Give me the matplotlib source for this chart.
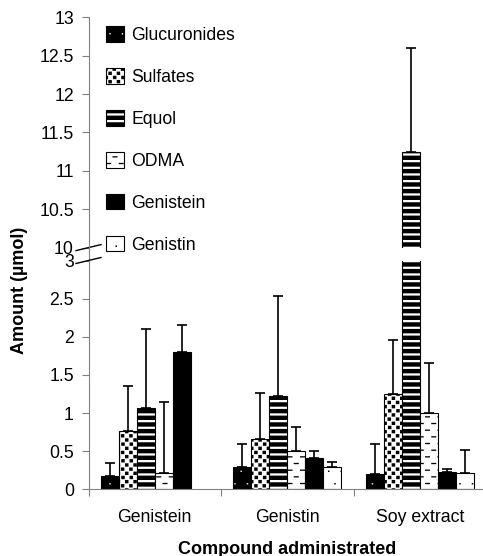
"""Urinary metabolites per compound administrated -- broken-axis bar chart."""
import warnings

import matplotlib

matplotlib.use("Agg")

import matplotlib.pyplot as plt  # noqa: E402
import matplotlib.patches as mpatches  # noqa: E402
import numpy as np  # noqa: E402
from matplotlib import hatch as mhatch  # noqa: E402
from matplotlib import ticker  # noqa: E402
from matplotlib.lines import Line2D  # noqa: E402
from matplotlib.path import Path  # noqa: E402

warnings.filterwarnings("ignore", message=".*hatch must consist.*")

groups = ["Genistein", "Genistin", "Soy extract"]
series = ["Glucuronides", "Sulfates", "Equol", "ODMA", "Genistein", "Genistin"]

glucuronides = [0.18, 0.29, 0.20]
glucuronides_sd = [0.17, 0.31, 0.40]
sulfates = [0.77, 0.66, 1.25]
sulfates_sd = [0.59, 0.60, 0.71]
equol = [1.07, 1.22, 11.25]
equol_sd = [1.03, 1.32, 1.35]
odma = [0.21, 0.50, 1.00]
odma_sd = [0.94, 0.32, 0.65]
genistein = [1.80, 0.41, 0.23]
genistein_sd = [0.36, 0.09, 0.04]
genistin = [np.nan, 0.29, 0.21]  # not measured after genistein dosing
genistin_sd = [np.nan, 0.07, 0.31]

values = [glucuronides, sulfates, equol, odma, genistein, genistin]
errors = [glucuronides_sd, sulfates_sd, equol_sd, odma_sd, genistein_sd, genistin_sd]


# ---- custom fill patterns (tile = 72 pt = 100 px at dpi 100) ----
def _rects(boxes, hole=False):
    verts, codes = [], []
    for x0, y0, w, h in boxes:
        pts = [(x0, y0), (x0 + w, y0), (x0 + w, y0 + h), (x0, y0 + h)]
        if hole:
            pts = pts[::-1]
        verts += pts + [pts[0]]
        codes += [Path.MOVETO, Path.LINETO, Path.LINETO, Path.LINETO, Path.CLOSEPOLY]
    return np.array(verts) / 100.0, np.array(codes, dtype=Path.code_type)


def _stagger(step, size, offset=0.0):
    boxes = []
    n = int(round(100 / step))
    for j in range(n):
        shift = step / 2 if j % 2 else 0.0
        for i in range(n):
            boxes.append(((i * step + shift + offset) % 100, j * step + offset, size, size))
    return boxes


def _join(*parts):
    return np.vstack([p[0] for p in parts]), np.concatenate([p[1] for p in parts])


_band = 100 / 15
_cell = 100 / 24
TILES = {
    # black with sparse white dots
    "G": _join(_rects([(0, 0, 100, 100)]), _rects(_stagger(12.5, 1.4, 3.0), hole=True)),
    # confetti checker
    "S": _rects([(i * _cell + (0.4 if j % 4 == 1 else 0), j * _cell, 3.5, 3.4)
                 for i in range(24) for j in range(24) if (i + j) % 2 == 0]),
    # wide horizontal stripes
    "E": _rects([(0, k * _band, 100, 4.4) for k in range(15)]),
    # short staggered dashes
    "D": _rects([((i * 12.5 + (6.25 if k % 2 else 0)) % 100, k * _band + 2.5, 5.0, 1.3)
                 for k in range(15) for i in range(8)]),
    # white with sparse black dots
    "N": _rects(_stagger(12.5, 1.5, 3.0)),
}


class TileHatch(mhatch.HatchPatternBase):
    def __init__(self, hatch, density):
        self.parts = [TILES[c] for c in hatch if c in TILES]
        self.num_vertices = sum(len(v) for v, _ in self.parts)

    def set_vertices_and_codes(self, vertices, codes):
        i = 0
        for v, c in self.parts:
            vertices[i:i + len(v)] = v
            codes[i:i + len(v)] = c
            i += len(v)


mhatch._hatch_types.append(TileHatch)

styles = [
    dict(facecolor="white", hatch="G"),
    dict(facecolor="white", hatch="S"),
    dict(facecolor="white", hatch="E"),
    dict(facecolor="white", hatch="D"),
    dict(facecolor="black", hatch=None),
    dict(facecolor="white", hatch="N"),
]

plt.rcParams["font.family"] = ["Liberation Sans", "DejaVu Sans"]
plt.rcParams["hatch.linewidth"] = 0.01

GRAY = "#808080"
W, H = 483, 556
fig = plt.figure(figsize=(W / 100, H / 100), dpi=100)
left, width = 88.5 / W, 397.5 / W
ax_lo = fig.add_axes([left, 1 - 489.3 / H, width, (489.3 - 260.5) / H])
ax_hi = fig.add_axes([left, 1 - 247.6 / H, width, (247.6 - 17.3) / H], sharex=ax_lo)

x = np.arange(len(groups))
bw = 0.136
for ax in (ax_lo, ax_hi):
    for k, (vals, errs, st) in enumerate(zip(values, errors, styles)):
        xs = x + (k - 2.5) * bw
        vals = np.asarray(vals, dtype=float)
        errs = np.asarray(errs, dtype=float)
        ax.bar(xs, vals, bw, edgecolor="black", linewidth=0.8, zorder=2, **st)
        ax.errorbar(xs, vals, yerr=[np.zeros(len(vals)), errs], fmt="none",
                    ecolor="black", elinewidth=1.2, capsize=3.4, capthick=1.2, zorder=3)

ax_lo.set_ylim(0, 3)
ax_hi.set_ylim(10, 13)
ax_lo.set_xlim(-0.5, 2.5)
for ax in (ax_lo, ax_hi):
    ax.yaxis.set_major_locator(ticker.MultipleLocator(0.5))
    ax.yaxis.set_major_formatter(ticker.FormatStrFormatter("%g"))
    ax.tick_params(axis="y", length=5, width=0.8, color=GRAY, pad=5.5, labelsize=12.7)
    for side in ("top", "right"):
        ax.spines[side].set_visible(False)
    ax.spines["left"].set_color(GRAY)

ax_hi.spines["bottom"].set_visible(False)
ax_hi.tick_params(axis="x", which="both", bottom=False, labelbottom=False)
ax_lo.spines["bottom"].set_color(GRAY)
ax_lo.set_xticks([-0.5, 0.5, 1.5, 2.5])
ax_lo.set_xticklabels([])
ax_lo.set_xticks(x, minor=True)
ax_lo.set_xticklabels(groups, minor=True)
ax_lo.tick_params(axis="x", which="major", length=5, width=0.8, color=GRAY)
ax_lo.tick_params(axis="x", which="minor", length=0, pad=14, labelsize=12.7)

# continuous spine across the gap + break marks
gap = (260.5 - 247.6) / (489.3 - 260.5)
ax_lo.add_line(Line2D([0, 0], [1, 1 + gap], transform=ax_lo.transAxes,
                      color=GRAY, lw=0.8, clip_on=False))
for ax in (ax_lo, ax_hi):
    yb = 1 if ax is ax_lo else 0
    bb = ax.get_position()
    dx = 12.5 / (bb.width * W)
    dy = 3.0 / (bb.height * H)
    ax.add_line(Line2D([-dx, dx], [yb - dy, yb + dy], transform=ax.transAxes,
                       color="black", lw=1.0, clip_on=False))

handles = [mpatches.Patch(edgecolor="black", linewidth=0.8, **st) for st in styles]
fig.legend(handles, series, loc="upper left", bbox_to_anchor=(106 / W, 1 - 26 / H),
           frameon=False, fontsize=12.7, handlelength=1.0, handleheight=1.0,
           handletextpad=0.45, labelspacing=1.36, borderpad=0, borderaxespad=0)

fig.text(20 / W, 1 - 290 / H, "Amount (µmol)", rotation=90, ha="center", va="center",
         fontsize=13, fontweight="bold")
fig.text(286.7 / W, 1.5 / H, "Compound administrated", ha="center", va="baseline",
         fontsize=13, fontweight="bold")

fig.savefig("out.png", dpi=100)
